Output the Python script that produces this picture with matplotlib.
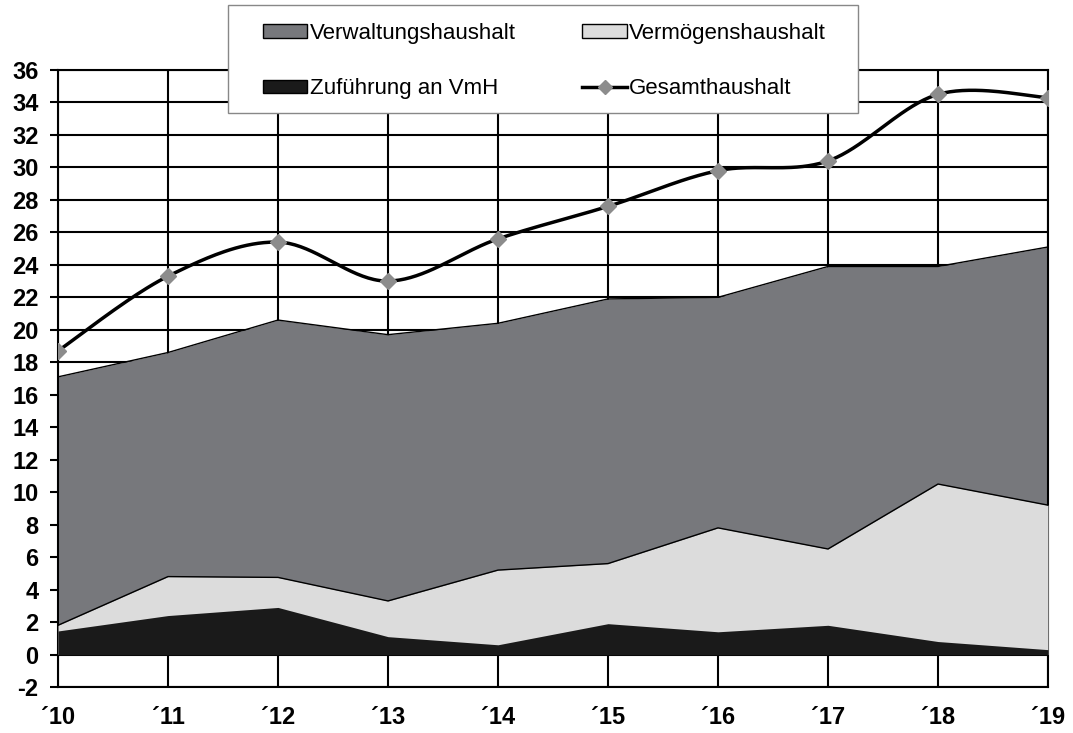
import numpy as np
import matplotlib.pyplot as plt
from matplotlib.patches import Patch, Rectangle
from matplotlib.lines import Line2D

plt.rcParams['font.family'] = ['Liberation Sans', 'DejaVu Sans']
plt.rcParams['axes.unicode_minus'] = False

# Daten (Mio. EUR)
jahre = ["´10", "´11", "´12", "´13", "´14", "´15", "´16", "´17", "´18", "´19"]
verwaltung = [17.1, 18.6, 20.6, 19.7, 20.4, 21.9, 22.0, 23.9, 23.9, 25.1]
vermoegen = [1.8, 4.8, 4.75, 3.3, 5.2, 5.6, 7.8, 6.5, 10.5, 9.2]
zufuehrung = [1.45, 2.4, 2.9, 1.1, 0.6, 1.9, 1.4, 1.8, 0.8, 0.3]
gesamt = [18.7, 23.3, 25.4, 23.0, 25.6, 27.6, 29.8, 30.4, 34.5, 34.3]


def smooth(xs, ys, n=40):
    # geglättete Linie wie in Excel (Bezier / Catmull-Rom)
    pts = np.column_stack([xs, ys]).astype(float)
    p = np.vstack([pts[0], pts, pts[-1]])
    t = np.linspace(0, 1, n)[:, None]
    segs = []
    for i in range(1, len(p) - 2):
        p0, p1, p2, p3 = p[i - 1], p[i], p[i + 1], p[i + 2]
        c1 = p1 + (p2 - p0) / 6
        c2 = p2 - (p3 - p1) / 6
        segs.append((1 - t)**3 * p1 + 3 * (1 - t)**2 * t * c1
                    + 3 * (1 - t) * t**2 * c2 + t**3 * p2)
    c = np.vstack(segs)
    return c[:, 0], c[:, 1]


c_verw = '#77787c'
c_verm = '#dcdcdc'
c_zuf = '#1a1a1a'
c_marker = '#8c8c8c'

fig = plt.figure(figsize=(10.73, 7.33), dpi=100)
ax = fig.add_axes([58 / 1073, 46 / 733, 990 / 1073, 617 / 733])

x = np.arange(len(jahre))

ax.fill_between(x, 0, verwaltung, color=c_verw, lw=0, zorder=2)
ax.plot(x, verwaltung, color='black', lw=1, zorder=2.1)
ax.fill_between(x, 0, vermoegen, color=c_verm, lw=0, zorder=3)
ax.plot(x, vermoegen, color='black', lw=1, zorder=3.1)
ax.fill_between(x, 0, zufuehrung, color=c_zuf, lw=0, zorder=4)

xs, ys = smooth(x, gesamt)
ax.plot(xs, ys, color='black', lw=2.5, zorder=5)
ax.plot(x, gesamt, ls='none', marker='D', ms=8, color=c_marker, zorder=6)

ax.set_xlim(0, 9)
ax.set_ylim(-2, 36)
ax.set_yticks(range(-2, 37, 2))
ax.set_xticks(x)
ax.set_xticklabels(jahre)

ax.set_axisbelow(True)
ax.grid(True, color='black', lw=1.5)
for s in ax.spines.values():
    s.set_color('black')
    s.set_linewidth(1.5)

ax.tick_params(axis='y', length=6, width=1.5, pad=8, labelsize=17)
ax.tick_params(axis='x', length=0, pad=14, labelsize=17)
for lbl in ax.get_xticklabels() + ax.get_yticklabels():
    lbl.set_fontweight('bold')

# Legende
handles = [
    Patch(facecolor=c_verw, edgecolor='black', lw=1),
    Patch(facecolor=c_zuf, edgecolor='black', lw=1),
    Patch(facecolor=c_verm, edgecolor='black', lw=1),
    Line2D([], [], color='black', lw=2.5, marker='D', ms=7, markerfacecolor=c_marker,
           markeredgecolor=c_marker),
]
labels = ["Verwaltungshaushalt", "Zuführung an VmH", "Vermögenshaushalt", "Gesamthaushalt"]

fig.patches.append(Rectangle((228 / 1073, 1 - 113 / 733), 630 / 1073, 108 / 733,
                             transform=fig.transFigure, facecolor='white',
                             edgecolor='#888888', lw=1, zorder=10))
leg = fig.legend(handles, labels, ncol=2, loc='upper left',
                 bbox_to_anchor=(263 / 1073, 1 - 23 / 733), bbox_transform=fig.transFigure,
                 frameon=False, fontsize=16, borderpad=0, borderaxespad=0,
                 handlelength=2.0, handleheight=0.55, handletextpad=0.1,
                 columnspacing=3.0, labelspacing=1.55)
leg.set_zorder(11)

fig.savefig('out.png', dpi=100)
